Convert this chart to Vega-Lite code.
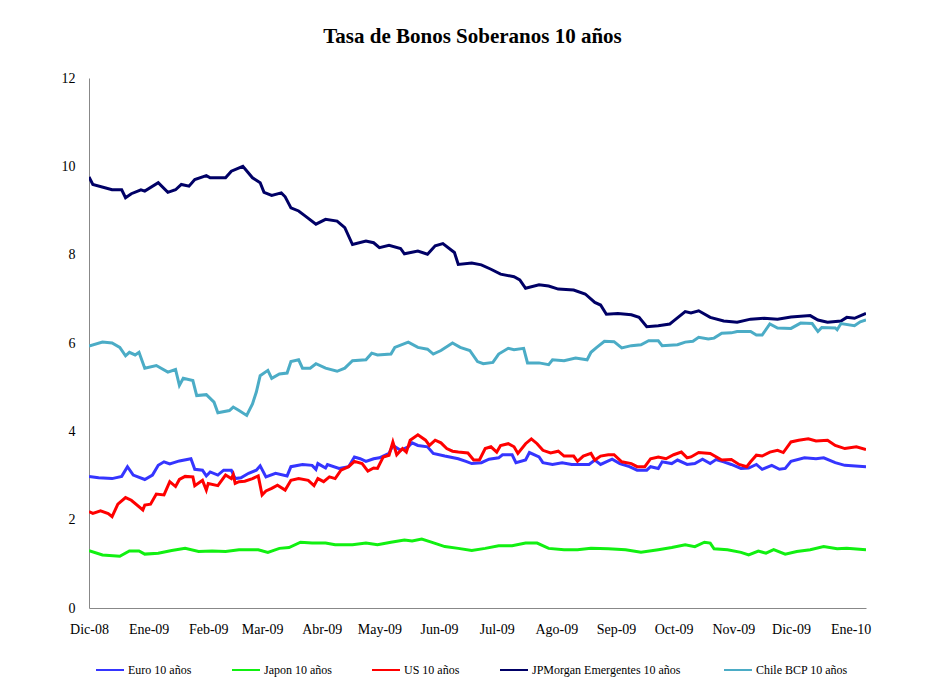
{
  "$schema": "https://vega.github.io/schema/vega-lite/v6.json",
  "width": 777,
  "height": 530,
  "autosize": {"type": "none"},
  "padding": {"left": 89, "top": 78, "right": 60, "bottom": 79},
  "background": "white",
  "title": {"text": "Tasa de Bonos Soberanos 10 años", "font": "Liberation Serif", "fontSize": 21, "fontWeight": "bold", "color": "black", "offset": 24, "anchor": "middle", "dx": -5},
  "config": {"view": {"stroke": null}, "font": "Liberation Serif"},
  "datasets": {
    "bonos": [
      {"serie": "Euro 10 años", "fecha": "2008-12-01", "tasa": 2.98},
      {"serie": "Euro 10 años", "fecha": "2008-12-06", "tasa": 2.95},
      {"serie": "Euro 10 años", "fecha": "2008-12-13", "tasa": 2.93},
      {"serie": "Euro 10 años", "fecha": "2008-12-18", "tasa": 2.98},
      {"serie": "Euro 10 años", "fecha": "2008-12-21", "tasa": 3.20},
      {"serie": "Euro 10 años", "fecha": "2008-12-24", "tasa": 3.01},
      {"serie": "Euro 10 años", "fecha": "2008-12-30", "tasa": 2.91},
      {"serie": "Euro 10 años", "fecha": "2009-01-03", "tasa": 3.01},
      {"serie": "Euro 10 años", "fecha": "2009-01-06", "tasa": 3.23},
      {"serie": "Euro 10 años", "fecha": "2009-01-09", "tasa": 3.31},
      {"serie": "Euro 10 años", "fecha": "2009-01-12", "tasa": 3.26},
      {"serie": "Euro 10 años", "fecha": "2009-01-17", "tasa": 3.33},
      {"serie": "Euro 10 años", "fecha": "2009-01-23", "tasa": 3.38},
      {"serie": "Euro 10 años", "fecha": "2009-01-25", "tasa": 3.14},
      {"serie": "Euro 10 años", "fecha": "2009-01-29", "tasa": 3.12},
      {"serie": "Euro 10 años", "fecha": "2009-01-31", "tasa": 2.99},
      {"serie": "Euro 10 años", "fecha": "2009-02-02", "tasa": 3.08},
      {"serie": "Euro 10 años", "fecha": "2009-02-06", "tasa": 3.01},
      {"serie": "Euro 10 años", "fecha": "2009-02-09", "tasa": 3.12},
      {"serie": "Euro 10 años", "fecha": "2009-02-13", "tasa": 3.12},
      {"serie": "Euro 10 años", "fecha": "2009-02-15", "tasa": 2.93},
      {"serie": "Euro 10 años", "fecha": "2009-02-18", "tasa": 2.95},
      {"serie": "Euro 10 años", "fecha": "2009-02-22", "tasa": 3.05},
      {"serie": "Euro 10 años", "fecha": "2009-02-26", "tasa": 3.12},
      {"serie": "Euro 10 años", "fecha": "2009-02-28", "tasa": 3.22},
      {"serie": "Euro 10 años", "fecha": "2009-03-03", "tasa": 2.97},
      {"serie": "Euro 10 años", "fecha": "2009-03-08", "tasa": 3.05},
      {"serie": "Euro 10 años", "fecha": "2009-03-14", "tasa": 2.99},
      {"serie": "Euro 10 años", "fecha": "2009-03-16", "tasa": 3.20},
      {"serie": "Euro 10 años", "fecha": "2009-03-22", "tasa": 3.25},
      {"serie": "Euro 10 años", "fecha": "2009-03-27", "tasa": 3.23},
      {"serie": "Euro 10 años", "fecha": "2009-03-29", "tasa": 3.14},
      {"serie": "Euro 10 años", "fecha": "2009-03-30", "tasa": 3.27},
      {"serie": "Euro 10 años", "fecha": "2009-04-03", "tasa": 3.17},
      {"serie": "Euro 10 años", "fecha": "2009-04-04", "tasa": 3.25},
      {"serie": "Euro 10 años", "fecha": "2009-04-10", "tasa": 3.16},
      {"serie": "Euro 10 años", "fecha": "2009-04-15", "tasa": 3.20},
      {"serie": "Euro 10 años", "fecha": "2009-04-18", "tasa": 3.42},
      {"serie": "Euro 10 años", "fecha": "2009-04-21", "tasa": 3.38},
      {"serie": "Euro 10 años", "fecha": "2009-04-24", "tasa": 3.32},
      {"serie": "Euro 10 años", "fecha": "2009-04-28", "tasa": 3.38},
      {"serie": "Euro 10 años", "fecha": "2009-05-01", "tasa": 3.40},
      {"serie": "Euro 10 años", "fecha": "2009-05-06", "tasa": 3.50},
      {"serie": "Euro 10 años", "fecha": "2009-05-08", "tasa": 3.68},
      {"serie": "Euro 10 años", "fecha": "2009-05-12", "tasa": 3.57},
      {"serie": "Euro 10 años", "fecha": "2009-05-16", "tasa": 3.65},
      {"serie": "Euro 10 años", "fecha": "2009-05-18", "tasa": 3.74},
      {"serie": "Euro 10 años", "fecha": "2009-05-21", "tasa": 3.68},
      {"serie": "Euro 10 años", "fecha": "2009-05-26", "tasa": 3.65},
      {"serie": "Euro 10 años", "fecha": "2009-05-29", "tasa": 3.50},
      {"serie": "Euro 10 años", "fecha": "2009-06-04", "tasa": 3.44},
      {"serie": "Euro 10 años", "fecha": "2009-06-11", "tasa": 3.38},
      {"serie": "Euro 10 años", "fecha": "2009-06-15", "tasa": 3.32},
      {"serie": "Euro 10 años", "fecha": "2009-06-18", "tasa": 3.27},
      {"serie": "Euro 10 años", "fecha": "2009-06-23", "tasa": 3.29},
      {"serie": "Euro 10 años", "fecha": "2009-06-27", "tasa": 3.37},
      {"serie": "Euro 10 años", "fecha": "2009-07-02", "tasa": 3.40},
      {"serie": "Euro 10 años", "fecha": "2009-07-04", "tasa": 3.47},
      {"serie": "Euro 10 años", "fecha": "2009-07-09", "tasa": 3.47},
      {"serie": "Euro 10 años", "fecha": "2009-07-11", "tasa": 3.29},
      {"serie": "Euro 10 años", "fecha": "2009-07-16", "tasa": 3.35},
      {"serie": "Euro 10 años", "fecha": "2009-07-18", "tasa": 3.52},
      {"serie": "Euro 10 años", "fecha": "2009-07-23", "tasa": 3.42},
      {"serie": "Euro 10 años", "fecha": "2009-07-25", "tasa": 3.29},
      {"serie": "Euro 10 años", "fecha": "2009-07-30", "tasa": 3.25},
      {"serie": "Euro 10 años", "fecha": "2009-08-04", "tasa": 3.29},
      {"serie": "Euro 10 años", "fecha": "2009-08-09", "tasa": 3.25},
      {"serie": "Euro 10 años", "fecha": "2009-08-18", "tasa": 3.25},
      {"serie": "Euro 10 años", "fecha": "2009-08-21", "tasa": 3.35},
      {"serie": "Euro 10 años", "fecha": "2009-08-24", "tasa": 3.25},
      {"serie": "Euro 10 años", "fecha": "2009-08-30", "tasa": 3.37},
      {"serie": "Euro 10 años", "fecha": "2009-09-03", "tasa": 3.27},
      {"serie": "Euro 10 años", "fecha": "2009-09-08", "tasa": 3.20},
      {"serie": "Euro 10 años", "fecha": "2009-09-12", "tasa": 3.12},
      {"serie": "Euro 10 años", "fecha": "2009-09-17", "tasa": 3.12},
      {"serie": "Euro 10 años", "fecha": "2009-09-19", "tasa": 3.20},
      {"serie": "Euro 10 años", "fecha": "2009-09-23", "tasa": 3.16},
      {"serie": "Euro 10 años", "fecha": "2009-09-25", "tasa": 3.31},
      {"serie": "Euro 10 años", "fecha": "2009-09-30", "tasa": 3.27},
      {"serie": "Euro 10 años", "fecha": "2009-10-03", "tasa": 3.35},
      {"serie": "Euro 10 años", "fecha": "2009-10-08", "tasa": 3.25},
      {"serie": "Euro 10 años", "fecha": "2009-10-12", "tasa": 3.27},
      {"serie": "Euro 10 años", "fecha": "2009-10-16", "tasa": 3.37},
      {"serie": "Euro 10 años", "fecha": "2009-10-20", "tasa": 3.27},
      {"serie": "Euro 10 años", "fecha": "2009-10-23", "tasa": 3.36},
      {"serie": "Euro 10 años", "fecha": "2009-10-27", "tasa": 3.31},
      {"serie": "Euro 10 años", "fecha": "2009-10-31", "tasa": 3.25},
      {"serie": "Euro 10 años", "fecha": "2009-11-05", "tasa": 3.16},
      {"serie": "Euro 10 años", "fecha": "2009-11-09", "tasa": 3.17},
      {"serie": "Euro 10 años", "fecha": "2009-11-13", "tasa": 3.25},
      {"serie": "Euro 10 años", "fecha": "2009-11-16", "tasa": 3.14},
      {"serie": "Euro 10 años", "fecha": "2009-11-21", "tasa": 3.23},
      {"serie": "Euro 10 años", "fecha": "2009-11-25", "tasa": 3.14},
      {"serie": "Euro 10 años", "fecha": "2009-11-28", "tasa": 3.16},
      {"serie": "Euro 10 años", "fecha": "2009-12-01", "tasa": 3.32},
      {"serie": "Euro 10 años", "fecha": "2009-12-08", "tasa": 3.40},
      {"serie": "Euro 10 años", "fecha": "2009-12-14", "tasa": 3.38},
      {"serie": "Euro 10 años", "fecha": "2009-12-18", "tasa": 3.40},
      {"serie": "Euro 10 años", "fecha": "2009-12-24", "tasa": 3.29},
      {"serie": "Euro 10 años", "fecha": "2009-12-29", "tasa": 3.23},
      {"serie": "Euro 10 años", "fecha": "2010-01-09", "tasa": 3.20},

      {"serie": "Japon 10 años", "fecha": "2008-12-01", "tasa": 1.30},
      {"serie": "Japon 10 años", "fecha": "2008-12-08", "tasa": 1.20},
      {"serie": "Japon 10 años", "fecha": "2008-12-17", "tasa": 1.17},
      {"serie": "Japon 10 años", "fecha": "2008-12-22", "tasa": 1.29},
      {"serie": "Japon 10 años", "fecha": "2008-12-27", "tasa": 1.29},
      {"serie": "Japon 10 años", "fecha": "2008-12-30", "tasa": 1.22},
      {"serie": "Japon 10 años", "fecha": "2009-01-06", "tasa": 1.24},
      {"serie": "Japon 10 años", "fecha": "2009-01-13", "tasa": 1.30},
      {"serie": "Japon 10 años", "fecha": "2009-01-20", "tasa": 1.35},
      {"serie": "Japon 10 años", "fecha": "2009-01-27", "tasa": 1.28},
      {"serie": "Japon 10 años", "fecha": "2009-02-03", "tasa": 1.29},
      {"serie": "Japon 10 años", "fecha": "2009-02-10", "tasa": 1.28},
      {"serie": "Japon 10 años", "fecha": "2009-02-17", "tasa": 1.32},
      {"serie": "Japon 10 años", "fecha": "2009-02-27", "tasa": 1.32},
      {"serie": "Japon 10 años", "fecha": "2009-03-04", "tasa": 1.26},
      {"serie": "Japon 10 años", "fecha": "2009-03-10", "tasa": 1.35},
      {"serie": "Japon 10 años", "fecha": "2009-03-15", "tasa": 1.37},
      {"serie": "Japon 10 años", "fecha": "2009-03-21", "tasa": 1.49},
      {"serie": "Japon 10 años", "fecha": "2009-03-27", "tasa": 1.47},
      {"serie": "Japon 10 años", "fecha": "2009-04-03", "tasa": 1.47},
      {"serie": "Japon 10 años", "fecha": "2009-04-08", "tasa": 1.43},
      {"serie": "Japon 10 años", "fecha": "2009-04-17", "tasa": 1.43},
      {"serie": "Japon 10 años", "fecha": "2009-04-24", "tasa": 1.47},
      {"serie": "Japon 10 años", "fecha": "2009-04-30", "tasa": 1.43},
      {"serie": "Japon 10 años", "fecha": "2009-05-07", "tasa": 1.49},
      {"serie": "Japon 10 años", "fecha": "2009-05-14", "tasa": 1.54},
      {"serie": "Japon 10 años", "fecha": "2009-05-18", "tasa": 1.52},
      {"serie": "Japon 10 años", "fecha": "2009-05-23", "tasa": 1.56},
      {"serie": "Japon 10 años", "fecha": "2009-05-28", "tasa": 1.49},
      {"serie": "Japon 10 años", "fecha": "2009-06-04", "tasa": 1.39},
      {"serie": "Japon 10 años", "fecha": "2009-06-11", "tasa": 1.35},
      {"serie": "Japon 10 años", "fecha": "2009-06-18", "tasa": 1.30},
      {"serie": "Japon 10 años", "fecha": "2009-06-25", "tasa": 1.35},
      {"serie": "Japon 10 años", "fecha": "2009-07-02", "tasa": 1.41},
      {"serie": "Japon 10 años", "fecha": "2009-07-09", "tasa": 1.41},
      {"serie": "Japon 10 años", "fecha": "2009-07-16", "tasa": 1.47},
      {"serie": "Japon 10 años", "fecha": "2009-07-22", "tasa": 1.47},
      {"serie": "Japon 10 años", "fecha": "2009-07-28", "tasa": 1.35},
      {"serie": "Japon 10 años", "fecha": "2009-08-05", "tasa": 1.32},
      {"serie": "Japon 10 años", "fecha": "2009-08-12", "tasa": 1.32},
      {"serie": "Japon 10 años", "fecha": "2009-08-19", "tasa": 1.35},
      {"serie": "Japon 10 años", "fecha": "2009-08-28", "tasa": 1.34},
      {"serie": "Japon 10 años", "fecha": "2009-09-06", "tasa": 1.32},
      {"serie": "Japon 10 años", "fecha": "2009-09-14", "tasa": 1.26},
      {"serie": "Japon 10 años", "fecha": "2009-09-23", "tasa": 1.32},
      {"serie": "Japon 10 años", "fecha": "2009-09-30", "tasa": 1.37},
      {"serie": "Japon 10 años", "fecha": "2009-10-07", "tasa": 1.43},
      {"serie": "Japon 10 años", "fecha": "2009-10-12", "tasa": 1.39},
      {"serie": "Japon 10 años", "fecha": "2009-10-17", "tasa": 1.49},
      {"serie": "Japon 10 años", "fecha": "2009-10-20", "tasa": 1.47},
      {"serie": "Japon 10 años", "fecha": "2009-10-22", "tasa": 1.34},
      {"serie": "Japon 10 años", "fecha": "2009-10-29", "tasa": 1.32},
      {"serie": "Japon 10 años", "fecha": "2009-11-05", "tasa": 1.26},
      {"serie": "Japon 10 años", "fecha": "2009-11-09", "tasa": 1.20},
      {"serie": "Japon 10 años", "fecha": "2009-11-14", "tasa": 1.29},
      {"serie": "Japon 10 años", "fecha": "2009-11-18", "tasa": 1.24},
      {"serie": "Japon 10 años", "fecha": "2009-11-22", "tasa": 1.32},
      {"serie": "Japon 10 años", "fecha": "2009-11-28", "tasa": 1.22},
      {"serie": "Japon 10 años", "fecha": "2009-12-04", "tasa": 1.28},
      {"serie": "Japon 10 años", "fecha": "2009-12-11", "tasa": 1.32},
      {"serie": "Japon 10 años", "fecha": "2009-12-18", "tasa": 1.39},
      {"serie": "Japon 10 años", "fecha": "2009-12-25", "tasa": 1.34},
      {"serie": "Japon 10 años", "fecha": "2009-12-30", "tasa": 1.35},
      {"serie": "Japon 10 años", "fecha": "2010-01-09", "tasa": 1.32},

      {"serie": "US 10 años", "fecha": "2008-12-01", "tasa": 2.18},
      {"serie": "US 10 años", "fecha": "2008-12-03", "tasa": 2.14},
      {"serie": "US 10 años", "fecha": "2008-12-07", "tasa": 2.20},
      {"serie": "US 10 años", "fecha": "2008-12-11", "tasa": 2.14},
      {"serie": "US 10 años", "fecha": "2008-12-13", "tasa": 2.07},
      {"serie": "US 10 años", "fecha": "2008-12-16", "tasa": 2.35},
      {"serie": "US 10 años", "fecha": "2008-12-20", "tasa": 2.50},
      {"serie": "US 10 años", "fecha": "2008-12-23", "tasa": 2.44},
      {"serie": "US 10 años", "fecha": "2008-12-29", "tasa": 2.22},
      {"serie": "US 10 años", "fecha": "2008-12-30", "tasa": 2.33},
      {"serie": "US 10 años", "fecha": "2009-01-02", "tasa": 2.35},
      {"serie": "US 10 años", "fecha": "2009-01-05", "tasa": 2.58},
      {"serie": "US 10 años", "fecha": "2009-01-09", "tasa": 2.56},
      {"serie": "US 10 años", "fecha": "2009-01-12", "tasa": 2.86},
      {"serie": "US 10 años", "fecha": "2009-01-15", "tasa": 2.75},
      {"serie": "US 10 años", "fecha": "2009-01-17", "tasa": 2.91},
      {"serie": "US 10 años", "fecha": "2009-01-20", "tasa": 2.98},
      {"serie": "US 10 años", "fecha": "2009-01-24", "tasa": 2.97},
      {"serie": "US 10 años", "fecha": "2009-01-25", "tasa": 2.77},
      {"serie": "US 10 años", "fecha": "2009-01-29", "tasa": 2.89},
      {"serie": "US 10 años", "fecha": "2009-01-31", "tasa": 2.67},
      {"serie": "US 10 años", "fecha": "2009-02-01", "tasa": 2.82},
      {"serie": "US 10 años", "fecha": "2009-02-06", "tasa": 2.77},
      {"serie": "US 10 años", "fecha": "2009-02-10", "tasa": 3.01},
      {"serie": "US 10 años", "fecha": "2009-02-13", "tasa": 2.93},
      {"serie": "US 10 años", "fecha": "2009-02-14", "tasa": 3.02},
      {"serie": "US 10 años", "fecha": "2009-02-15", "tasa": 2.82},
      {"serie": "US 10 años", "fecha": "2009-02-17", "tasa": 2.86},
      {"serie": "US 10 años", "fecha": "2009-02-20", "tasa": 2.87},
      {"serie": "US 10 años", "fecha": "2009-02-24", "tasa": 2.93},
      {"serie": "US 10 años", "fecha": "2009-02-27", "tasa": 2.99},
      {"serie": "US 10 años", "fecha": "2009-03-01", "tasa": 2.56},
      {"serie": "US 10 años", "fecha": "2009-03-03", "tasa": 2.65},
      {"serie": "US 10 años", "fecha": "2009-03-06", "tasa": 2.71},
      {"serie": "US 10 años", "fecha": "2009-03-09", "tasa": 2.78},
      {"serie": "US 10 años", "fecha": "2009-03-13", "tasa": 2.67},
      {"serie": "US 10 años", "fecha": "2009-03-16", "tasa": 2.89},
      {"serie": "US 10 años", "fecha": "2009-03-20", "tasa": 2.93},
      {"serie": "US 10 años", "fecha": "2009-03-25", "tasa": 2.89},
      {"serie": "US 10 años", "fecha": "2009-03-28", "tasa": 2.77},
      {"serie": "US 10 años", "fecha": "2009-03-30", "tasa": 2.93},
      {"serie": "US 10 años", "fecha": "2009-04-02", "tasa": 2.86},
      {"serie": "US 10 años", "fecha": "2009-04-05", "tasa": 2.97},
      {"serie": "US 10 años", "fecha": "2009-04-08", "tasa": 2.93},
      {"serie": "US 10 años", "fecha": "2009-04-11", "tasa": 3.12},
      {"serie": "US 10 años", "fecha": "2009-04-15", "tasa": 3.20},
      {"serie": "US 10 años", "fecha": "2009-04-18", "tasa": 3.32},
      {"serie": "US 10 años", "fecha": "2009-04-22", "tasa": 3.27},
      {"serie": "US 10 años", "fecha": "2009-04-25", "tasa": 3.10},
      {"serie": "US 10 años", "fecha": "2009-04-28", "tasa": 3.17},
      {"serie": "US 10 años", "fecha": "2009-04-30", "tasa": 3.16},
      {"serie": "US 10 años", "fecha": "2009-05-03", "tasa": 3.42},
      {"serie": "US 10 años", "fecha": "2009-05-06", "tasa": 3.46},
      {"serie": "US 10 años", "fecha": "2009-05-08", "tasa": 3.76},
      {"serie": "US 10 años", "fecha": "2009-05-10", "tasa": 3.47},
      {"serie": "US 10 años", "fecha": "2009-05-13", "tasa": 3.61},
      {"serie": "US 10 años", "fecha": "2009-05-15", "tasa": 3.53},
      {"serie": "US 10 años", "fecha": "2009-05-17", "tasa": 3.80},
      {"serie": "US 10 años", "fecha": "2009-05-21", "tasa": 3.92},
      {"serie": "US 10 años", "fecha": "2009-05-25", "tasa": 3.80},
      {"serie": "US 10 años", "fecha": "2009-05-27", "tasa": 3.68},
      {"serie": "US 10 años", "fecha": "2009-05-30", "tasa": 3.80},
      {"serie": "US 10 años", "fecha": "2009-06-02", "tasa": 3.74},
      {"serie": "US 10 años", "fecha": "2009-06-05", "tasa": 3.61},
      {"serie": "US 10 años", "fecha": "2009-06-08", "tasa": 3.55},
      {"serie": "US 10 años", "fecha": "2009-06-11", "tasa": 3.53},
      {"serie": "US 10 años", "fecha": "2009-06-16", "tasa": 3.51},
      {"serie": "US 10 años", "fecha": "2009-06-19", "tasa": 3.35},
      {"serie": "US 10 años", "fecha": "2009-06-22", "tasa": 3.35},
      {"serie": "US 10 años", "fecha": "2009-06-25", "tasa": 3.61},
      {"serie": "US 10 años", "fecha": "2009-06-28", "tasa": 3.65},
      {"serie": "US 10 años", "fecha": "2009-07-01", "tasa": 3.53},
      {"serie": "US 10 años", "fecha": "2009-07-03", "tasa": 3.68},
      {"serie": "US 10 años", "fecha": "2009-07-07", "tasa": 3.72},
      {"serie": "US 10 años", "fecha": "2009-07-10", "tasa": 3.65},
      {"serie": "US 10 años", "fecha": "2009-07-12", "tasa": 3.50},
      {"serie": "US 10 años", "fecha": "2009-07-16", "tasa": 3.72},
      {"serie": "US 10 años", "fecha": "2009-07-19", "tasa": 3.83},
      {"serie": "US 10 años", "fecha": "2009-07-22", "tasa": 3.72},
      {"serie": "US 10 años", "fecha": "2009-07-25", "tasa": 3.57},
      {"serie": "US 10 años", "fecha": "2009-07-29", "tasa": 3.51},
      {"serie": "US 10 años", "fecha": "2009-08-02", "tasa": 3.55},
      {"serie": "US 10 años", "fecha": "2009-08-05", "tasa": 3.44},
      {"serie": "US 10 años", "fecha": "2009-08-10", "tasa": 3.44},
      {"serie": "US 10 años", "fecha": "2009-08-12", "tasa": 3.32},
      {"serie": "US 10 años", "fecha": "2009-08-15", "tasa": 3.44},
      {"serie": "US 10 años", "fecha": "2009-08-19", "tasa": 3.50},
      {"serie": "US 10 años", "fecha": "2009-08-21", "tasa": 3.35},
      {"serie": "US 10 años", "fecha": "2009-08-24", "tasa": 3.44},
      {"serie": "US 10 años", "fecha": "2009-08-28", "tasa": 3.47},
      {"serie": "US 10 años", "fecha": "2009-08-31", "tasa": 3.47},
      {"serie": "US 10 años", "fecha": "2009-09-04", "tasa": 3.31},
      {"serie": "US 10 años", "fecha": "2009-09-09", "tasa": 3.27},
      {"serie": "US 10 años", "fecha": "2009-09-12", "tasa": 3.20},
      {"serie": "US 10 años", "fecha": "2009-09-16", "tasa": 3.20},
      {"serie": "US 10 años", "fecha": "2009-09-19", "tasa": 3.38},
      {"serie": "US 10 años", "fecha": "2009-09-23", "tasa": 3.42},
      {"serie": "US 10 años", "fecha": "2009-09-27", "tasa": 3.38},
      {"serie": "US 10 años", "fecha": "2009-10-01", "tasa": 3.47},
      {"serie": "US 10 años", "fecha": "2009-10-05", "tasa": 3.53},
      {"serie": "US 10 años", "fecha": "2009-10-08", "tasa": 3.40},
      {"serie": "US 10 años", "fecha": "2009-10-10", "tasa": 3.42},
      {"serie": "US 10 años", "fecha": "2009-10-14", "tasa": 3.52},
      {"serie": "US 10 años", "fecha": "2009-10-20", "tasa": 3.50},
      {"serie": "US 10 años", "fecha": "2009-10-26", "tasa": 3.35},
      {"serie": "US 10 años", "fecha": "2009-10-31", "tasa": 3.36},
      {"serie": "US 10 años", "fecha": "2009-11-04", "tasa": 3.25},
      {"serie": "US 10 años", "fecha": "2009-11-08", "tasa": 3.20},
      {"serie": "US 10 años", "fecha": "2009-11-10", "tasa": 3.31},
      {"serie": "US 10 años", "fecha": "2009-11-13", "tasa": 3.46},
      {"serie": "US 10 años", "fecha": "2009-11-16", "tasa": 3.44},
      {"serie": "US 10 años", "fecha": "2009-11-20", "tasa": 3.53},
      {"serie": "US 10 años", "fecha": "2009-11-24", "tasa": 3.57},
      {"serie": "US 10 años", "fecha": "2009-11-27", "tasa": 3.52},
      {"serie": "US 10 años", "fecha": "2009-12-01", "tasa": 3.76},
      {"serie": "US 10 años", "fecha": "2009-12-05", "tasa": 3.80},
      {"serie": "US 10 años", "fecha": "2009-12-10", "tasa": 3.83},
      {"serie": "US 10 años", "fecha": "2009-12-14", "tasa": 3.78},
      {"serie": "US 10 años", "fecha": "2009-12-20", "tasa": 3.80},
      {"serie": "US 10 años", "fecha": "2009-12-24", "tasa": 3.68},
      {"serie": "US 10 años", "fecha": "2009-12-29", "tasa": 3.61},
      {"serie": "US 10 años", "fecha": "2010-01-04", "tasa": 3.65},
      {"serie": "US 10 años", "fecha": "2010-01-09", "tasa": 3.59},

      {"serie": "JPMorgan Emergentes  10 años", "fecha": "2008-12-01", "tasa": 9.76},
      {"serie": "JPMorgan Emergentes  10 años", "fecha": "2008-12-03", "tasa": 9.59},
      {"serie": "JPMorgan Emergentes  10 años", "fecha": "2008-12-13", "tasa": 9.47},
      {"serie": "JPMorgan Emergentes  10 años", "fecha": "2008-12-18", "tasa": 9.47},
      {"serie": "JPMorgan Emergentes  10 años", "fecha": "2008-12-20", "tasa": 9.29},
      {"serie": "JPMorgan Emergentes  10 años", "fecha": "2008-12-23", "tasa": 9.38},
      {"serie": "JPMorgan Emergentes  10 años", "fecha": "2008-12-28", "tasa": 9.47},
      {"serie": "JPMorgan Emergentes  10 años", "fecha": "2008-12-30", "tasa": 9.44},
      {"serie": "JPMorgan Emergentes  10 años", "fecha": "2009-01-06", "tasa": 9.63},
      {"serie": "JPMorgan Emergentes  10 años", "fecha": "2009-01-11", "tasa": 9.41},
      {"serie": "JPMorgan Emergentes  10 años", "fecha": "2009-01-15", "tasa": 9.47},
      {"serie": "JPMorgan Emergentes  10 años", "fecha": "2009-01-18", "tasa": 9.59},
      {"serie": "JPMorgan Emergentes  10 años", "fecha": "2009-01-22", "tasa": 9.55},
      {"serie": "JPMorgan Emergentes  10 años", "fecha": "2009-01-25", "tasa": 9.70},
      {"serie": "JPMorgan Emergentes  10 años", "fecha": "2009-01-31", "tasa": 9.79},
      {"serie": "JPMorgan Emergentes  10 años", "fecha": "2009-02-02", "tasa": 9.74},
      {"serie": "JPMorgan Emergentes  10 años", "fecha": "2009-02-10", "tasa": 9.74},
      {"serie": "JPMorgan Emergentes  10 años", "fecha": "2009-02-13", "tasa": 9.89},
      {"serie": "JPMorgan Emergentes  10 años", "fecha": "2009-02-19", "tasa": 10.0},
      {"serie": "JPMorgan Emergentes  10 años", "fecha": "2009-02-24", "tasa": 9.74},
      {"serie": "JPMorgan Emergentes  10 años", "fecha": "2009-02-28", "tasa": 9.63},
      {"serie": "JPMorgan Emergentes  10 años", "fecha": "2009-03-02", "tasa": 9.41},
      {"serie": "JPMorgan Emergentes  10 años", "fecha": "2009-03-06", "tasa": 9.34},
      {"serie": "JPMorgan Emergentes  10 años", "fecha": "2009-03-11", "tasa": 9.40},
      {"serie": "JPMorgan Emergentes  10 años", "fecha": "2009-03-13", "tasa": 9.31},
      {"serie": "JPMorgan Emergentes  10 años", "fecha": "2009-03-16", "tasa": 9.06},
      {"serie": "JPMorgan Emergentes  10 años", "fecha": "2009-03-20", "tasa": 8.99},
      {"serie": "JPMorgan Emergentes  10 años", "fecha": "2009-03-23", "tasa": 8.89},
      {"serie": "JPMorgan Emergentes  10 años", "fecha": "2009-03-29", "tasa": 8.69},
      {"serie": "JPMorgan Emergentes  10 años", "fecha": "2009-04-03", "tasa": 8.80},
      {"serie": "JPMorgan Emergentes  10 años", "fecha": "2009-04-09", "tasa": 8.76},
      {"serie": "JPMorgan Emergentes  10 años", "fecha": "2009-04-13", "tasa": 8.61},
      {"serie": "JPMorgan Emergentes  10 años", "fecha": "2009-04-17", "tasa": 8.23},
      {"serie": "JPMorgan Emergentes  10 años", "fecha": "2009-04-24", "tasa": 8.31},
      {"serie": "JPMorgan Emergentes  10 años", "fecha": "2009-04-28", "tasa": 8.27},
      {"serie": "JPMorgan Emergentes  10 años", "fecha": "2009-05-01", "tasa": 8.16},
      {"serie": "JPMorgan Emergentes  10 años", "fecha": "2009-05-06", "tasa": 8.21},
      {"serie": "JPMorgan Emergentes  10 años", "fecha": "2009-05-12", "tasa": 8.14},
      {"serie": "JPMorgan Emergentes  10 años", "fecha": "2009-05-14", "tasa": 8.02},
      {"serie": "JPMorgan Emergentes  10 años", "fecha": "2009-05-21", "tasa": 8.08},
      {"serie": "JPMorgan Emergentes  10 años", "fecha": "2009-05-26", "tasa": 8.01},
      {"serie": "JPMorgan Emergentes  10 años", "fecha": "2009-05-30", "tasa": 8.20},
      {"serie": "JPMorgan Emergentes  10 años", "fecha": "2009-06-03", "tasa": 8.25},
      {"serie": "JPMorgan Emergentes  10 años", "fecha": "2009-06-09", "tasa": 8.05},
      {"serie": "JPMorgan Emergentes  10 años", "fecha": "2009-06-11", "tasa": 7.78},
      {"serie": "JPMorgan Emergentes  10 años", "fecha": "2009-06-18", "tasa": 7.81},
      {"serie": "JPMorgan Emergentes  10 años", "fecha": "2009-06-23", "tasa": 7.77},
      {"serie": "JPMorgan Emergentes  10 años", "fecha": "2009-06-28", "tasa": 7.67},
      {"serie": "JPMorgan Emergentes  10 años", "fecha": "2009-07-03", "tasa": 7.56},
      {"serie": "JPMorgan Emergentes  10 años", "fecha": "2009-07-10", "tasa": 7.50},
      {"serie": "JPMorgan Emergentes  10 años", "fecha": "2009-07-13", "tasa": 7.43},
      {"serie": "JPMorgan Emergentes  10 años", "fecha": "2009-07-16", "tasa": 7.24},
      {"serie": "JPMorgan Emergentes  10 años", "fecha": "2009-07-23", "tasa": 7.32},
      {"serie": "JPMorgan Emergentes  10 años", "fecha": "2009-07-28", "tasa": 7.29},
      {"serie": "JPMorgan Emergentes  10 años", "fecha": "2009-08-02", "tasa": 7.22},
      {"serie": "JPMorgan Emergentes  10 años", "fecha": "2009-08-10", "tasa": 7.20},
      {"serie": "JPMorgan Emergentes  10 años", "fecha": "2009-08-16", "tasa": 7.11},
      {"serie": "JPMorgan Emergentes  10 años", "fecha": "2009-08-21", "tasa": 6.92},
      {"serie": "JPMorgan Emergentes  10 años", "fecha": "2009-08-24", "tasa": 6.86},
      {"serie": "JPMorgan Emergentes  10 años", "fecha": "2009-08-27", "tasa": 6.65},
      {"serie": "JPMorgan Emergentes  10 años", "fecha": "2009-09-02", "tasa": 6.67},
      {"serie": "JPMorgan Emergentes  10 años", "fecha": "2009-09-09", "tasa": 6.64},
      {"serie": "JPMorgan Emergentes  10 años", "fecha": "2009-09-13", "tasa": 6.58},
      {"serie": "JPMorgan Emergentes  10 años", "fecha": "2009-09-17", "tasa": 6.37},
      {"serie": "JPMorgan Emergentes  10 años", "fecha": "2009-09-23", "tasa": 6.39},
      {"serie": "JPMorgan Emergentes  10 años", "fecha": "2009-09-29", "tasa": 6.43},
      {"serie": "JPMorgan Emergentes  10 años", "fecha": "2009-10-01", "tasa": 6.50},
      {"serie": "JPMorgan Emergentes  10 años", "fecha": "2009-10-07", "tasa": 6.71},
      {"serie": "JPMorgan Emergentes  10 años", "fecha": "2009-10-10", "tasa": 6.68},
      {"serie": "JPMorgan Emergentes  10 años", "fecha": "2009-10-14", "tasa": 6.73},
      {"serie": "JPMorgan Emergentes  10 años", "fecha": "2009-10-20", "tasa": 6.58},
      {"serie": "JPMorgan Emergentes  10 años", "fecha": "2009-10-27", "tasa": 6.50},
      {"serie": "JPMorgan Emergentes  10 años", "fecha": "2009-11-03", "tasa": 6.47},
      {"serie": "JPMorgan Emergentes  10 años", "fecha": "2009-11-10", "tasa": 6.54},
      {"serie": "JPMorgan Emergentes  10 años", "fecha": "2009-11-17", "tasa": 6.56},
      {"serie": "JPMorgan Emergentes  10 años", "fecha": "2009-11-24", "tasa": 6.54},
      {"serie": "JPMorgan Emergentes  10 años", "fecha": "2009-12-01", "tasa": 6.59},
      {"serie": "JPMorgan Emergentes  10 años", "fecha": "2009-12-11", "tasa": 6.62},
      {"serie": "JPMorgan Emergentes  10 años", "fecha": "2009-12-15", "tasa": 6.52},
      {"serie": "JPMorgan Emergentes  10 años", "fecha": "2009-12-20", "tasa": 6.47},
      {"serie": "JPMorgan Emergentes  10 años", "fecha": "2009-12-27", "tasa": 6.50},
      {"serie": "JPMorgan Emergentes  10 años", "fecha": "2009-12-30", "tasa": 6.58},
      {"serie": "JPMorgan Emergentes  10 años", "fecha": "2010-01-03", "tasa": 6.56},
      {"serie": "JPMorgan Emergentes  10 años", "fecha": "2010-01-09", "tasa": 6.67},

      {"serie": "Chile BCP  10 años", "fecha": "2008-12-01", "tasa": 5.93},
      {"serie": "Chile BCP  10 años", "fecha": "2008-12-08", "tasa": 6.02},
      {"serie": "Chile BCP  10 años", "fecha": "2008-12-13", "tasa": 6.00},
      {"serie": "Chile BCP  10 años", "fecha": "2008-12-17", "tasa": 5.90},
      {"serie": "Chile BCP  10 años", "fecha": "2008-12-20", "tasa": 5.71},
      {"serie": "Chile BCP  10 años", "fecha": "2008-12-22", "tasa": 5.79},
      {"serie": "Chile BCP  10 años", "fecha": "2008-12-25", "tasa": 5.73},
      {"serie": "Chile BCP  10 años", "fecha": "2008-12-27", "tasa": 5.79},
      {"serie": "Chile BCP  10 años", "fecha": "2008-12-30", "tasa": 5.43},
      {"serie": "Chile BCP  10 años", "fecha": "2009-01-05", "tasa": 5.49},
      {"serie": "Chile BCP  10 años", "fecha": "2009-01-11", "tasa": 5.34},
      {"serie": "Chile BCP  10 años", "fecha": "2009-01-15", "tasa": 5.40},
      {"serie": "Chile BCP  10 años", "fecha": "2009-01-17", "tasa": 5.04},
      {"serie": "Chile BCP  10 años", "fecha": "2009-01-19", "tasa": 5.20},
      {"serie": "Chile BCP  10 años", "fecha": "2009-01-24", "tasa": 5.15},
      {"serie": "Chile BCP  10 años", "fecha": "2009-01-26", "tasa": 4.81},
      {"serie": "Chile BCP  10 años", "fecha": "2009-01-31", "tasa": 4.83},
      {"serie": "Chile BCP  10 años", "fecha": "2009-02-04", "tasa": 4.66},
      {"serie": "Chile BCP  10 años", "fecha": "2009-02-06", "tasa": 4.42},
      {"serie": "Chile BCP  10 años", "fecha": "2009-02-12", "tasa": 4.47},
      {"serie": "Chile BCP  10 años", "fecha": "2009-02-14", "tasa": 4.55},
      {"serie": "Chile BCP  10 años", "fecha": "2009-02-17", "tasa": 4.47},
      {"serie": "Chile BCP  10 años", "fecha": "2009-02-21", "tasa": 4.36},
      {"serie": "Chile BCP  10 años", "fecha": "2009-02-24", "tasa": 4.62},
      {"serie": "Chile BCP  10 años", "fecha": "2009-02-26", "tasa": 4.89},
      {"serie": "Chile BCP  10 años", "fecha": "2009-02-28", "tasa": 5.26},
      {"serie": "Chile BCP  10 años", "fecha": "2009-03-04", "tasa": 5.38},
      {"serie": "Chile BCP  10 años", "fecha": "2009-03-06", "tasa": 5.20},
      {"serie": "Chile BCP  10 años", "fecha": "2009-03-10", "tasa": 5.30},
      {"serie": "Chile BCP  10 años", "fecha": "2009-03-14", "tasa": 5.32},
      {"serie": "Chile BCP  10 años", "fecha": "2009-03-16", "tasa": 5.58},
      {"serie": "Chile BCP  10 años", "fecha": "2009-03-20", "tasa": 5.62},
      {"serie": "Chile BCP  10 años", "fecha": "2009-03-22", "tasa": 5.43},
      {"serie": "Chile BCP  10 años", "fecha": "2009-03-26", "tasa": 5.43},
      {"serie": "Chile BCP  10 años", "fecha": "2009-03-29", "tasa": 5.53},
      {"serie": "Chile BCP  10 años", "fecha": "2009-04-03", "tasa": 5.43},
      {"serie": "Chile BCP  10 años", "fecha": "2009-04-09", "tasa": 5.36},
      {"serie": "Chile BCP  10 años", "fecha": "2009-04-13", "tasa": 5.43},
      {"serie": "Chile BCP  10 años", "fecha": "2009-04-17", "tasa": 5.60},
      {"serie": "Chile BCP  10 años", "fecha": "2009-04-24", "tasa": 5.62},
      {"serie": "Chile BCP  10 años", "fecha": "2009-04-27", "tasa": 5.77},
      {"serie": "Chile BCP  10 años", "fecha": "2009-04-30", "tasa": 5.73},
      {"serie": "Chile BCP  10 años", "fecha": "2009-05-07", "tasa": 5.75},
      {"serie": "Chile BCP  10 años", "fecha": "2009-05-09", "tasa": 5.90},
      {"serie": "Chile BCP  10 años", "fecha": "2009-05-16", "tasa": 6.02},
      {"serie": "Chile BCP  10 años", "fecha": "2009-05-21", "tasa": 5.90},
      {"serie": "Chile BCP  10 años", "fecha": "2009-05-26", "tasa": 5.86},
      {"serie": "Chile BCP  10 años", "fecha": "2009-05-29", "tasa": 5.75},
      {"serie": "Chile BCP  10 años", "fecha": "2009-06-02", "tasa": 5.83},
      {"serie": "Chile BCP  10 años", "fecha": "2009-06-08", "tasa": 6.00},
      {"serie": "Chile BCP  10 años", "fecha": "2009-06-12", "tasa": 5.90},
      {"serie": "Chile BCP  10 años", "fecha": "2009-06-17", "tasa": 5.83},
      {"serie": "Chile BCP  10 años", "fecha": "2009-06-21", "tasa": 5.58},
      {"serie": "Chile BCP  10 años", "fecha": "2009-06-24", "tasa": 5.53},
      {"serie": "Chile BCP  10 años", "fecha": "2009-06-29", "tasa": 5.56},
      {"serie": "Chile BCP  10 años", "fecha": "2009-07-02", "tasa": 5.75},
      {"serie": "Chile BCP  10 años", "fecha": "2009-07-07", "tasa": 5.88},
      {"serie": "Chile BCP  10 años", "fecha": "2009-07-10", "tasa": 5.85},
      {"serie": "Chile BCP  10 años", "fecha": "2009-07-15", "tasa": 5.88},
      {"serie": "Chile BCP  10 años", "fecha": "2009-07-17", "tasa": 5.55},
      {"serie": "Chile BCP  10 años", "fecha": "2009-07-23", "tasa": 5.55},
      {"serie": "Chile BCP  10 años", "fecha": "2009-07-28", "tasa": 5.51},
      {"serie": "Chile BCP  10 años", "fecha": "2009-07-30", "tasa": 5.62},
      {"serie": "Chile BCP  10 años", "fecha": "2009-08-05", "tasa": 5.60},
      {"serie": "Chile BCP  10 años", "fecha": "2009-08-11", "tasa": 5.66},
      {"serie": "Chile BCP  10 años", "fecha": "2009-08-17", "tasa": 5.62},
      {"serie": "Chile BCP  10 años", "fecha": "2009-08-19", "tasa": 5.79},
      {"serie": "Chile BCP  10 años", "fecha": "2009-08-22", "tasa": 5.90},
      {"serie": "Chile BCP  10 años", "fecha": "2009-08-26", "tasa": 6.04},
      {"serie": "Chile BCP  10 años", "fecha": "2009-08-31", "tasa": 6.03},
      {"serie": "Chile BCP  10 años", "fecha": "2009-09-04", "tasa": 5.89},
      {"serie": "Chile BCP  10 años", "fecha": "2009-09-09", "tasa": 5.94},
      {"serie": "Chile BCP  10 años", "fecha": "2009-09-14", "tasa": 5.96},
      {"serie": "Chile BCP  10 años", "fecha": "2009-09-18", "tasa": 6.05},
      {"serie": "Chile BCP  10 años", "fecha": "2009-09-23", "tasa": 6.05},
      {"serie": "Chile BCP  10 años", "fecha": "2009-09-25", "tasa": 5.94},
      {"serie": "Chile BCP  10 años", "fecha": "2009-10-03", "tasa": 5.96},
      {"serie": "Chile BCP  10 años", "fecha": "2009-10-07", "tasa": 6.02},
      {"serie": "Chile BCP  10 años", "fecha": "2009-10-11", "tasa": 6.04},
      {"serie": "Chile BCP  10 años", "fecha": "2009-10-14", "tasa": 6.13},
      {"serie": "Chile BCP  10 años", "fecha": "2009-10-19", "tasa": 6.09},
      {"serie": "Chile BCP  10 años", "fecha": "2009-10-22", "tasa": 6.11},
      {"serie": "Chile BCP  10 años", "fecha": "2009-10-26", "tasa": 6.22},
      {"serie": "Chile BCP  10 años", "fecha": "2009-10-31", "tasa": 6.23},
      {"serie": "Chile BCP  10 años", "fecha": "2009-11-03", "tasa": 6.26},
      {"serie": "Chile BCP  10 años", "fecha": "2009-11-10", "tasa": 6.26},
      {"serie": "Chile BCP  10 años", "fecha": "2009-11-13", "tasa": 6.18},
      {"serie": "Chile BCP  10 años", "fecha": "2009-11-16", "tasa": 6.18},
      {"serie": "Chile BCP  10 años", "fecha": "2009-11-20", "tasa": 6.43},
      {"serie": "Chile BCP  10 años", "fecha": "2009-11-24", "tasa": 6.34},
      {"serie": "Chile BCP  10 años", "fecha": "2009-12-01", "tasa": 6.33},
      {"serie": "Chile BCP  10 años", "fecha": "2009-12-06", "tasa": 6.45},
      {"serie": "Chile BCP  10 años", "fecha": "2009-12-12", "tasa": 6.44},
      {"serie": "Chile BCP  10 años", "fecha": "2009-12-15", "tasa": 6.26},
      {"serie": "Chile BCP  10 años", "fecha": "2009-12-17", "tasa": 6.35},
      {"serie": "Chile BCP  10 años", "fecha": "2009-12-24", "tasa": 6.34},
      {"serie": "Chile BCP  10 años", "fecha": "2009-12-25", "tasa": 6.30},
      {"serie": "Chile BCP  10 años", "fecha": "2009-12-27", "tasa": 6.44},
      {"serie": "Chile BCP  10 años", "fecha": "2010-01-03", "tasa": 6.39},
      {"serie": "Chile BCP  10 años", "fecha": "2010-01-06", "tasa": 6.48},
      {"serie": "Chile BCP  10 años", "fecha": "2010-01-09", "tasa": 6.52}
    ]
  },
  "data": {"name": "bonos"},
  "mark": {"type": "line", "strokeWidth": 3, "clip": true},
  "encoding": {
    "x": {
      "field": "fecha",
      "type": "temporal",
      "scale": {"type": "utc", "domain": [{"year": 2008, "month": 12, "date": 1, "utc": true}, {"year": 2010, "month": 1, "date": 9, "utc": true}]},
      "axis": {
        "title": null,
        "grid": false,
        "ticks": false,
        "domainColor": "#888888",
        "domainWidth": 1,
        "tickCount": {"interval": "month", "step": 1},
        "labelExpr": "['Ene','Feb','Mar','Abr','May','Jun','Jul','Ago','Sep','Oct','Nov','Dic'][utcmonth(datum.value)] + '-' + utcFormat(datum.value, '%y')",
        "labelFont": "Liberation Serif",
        "labelFontSize": 14,
        "labelColor": "black",
        "labelPadding": 14,
        "labelOverlap": false,
        "labelFlush": false,
        "labelAlign": "center"
      }
    },
    "y": {
      "field": "tasa",
      "type": "quantitative",
      "scale": {"domain": [0, 12], "nice": false, "zero": true},
      "axis": {
        "title": null,
        "grid": false,
        "ticks": false,
        "values": [0, 2, 4, 6, 8, 10, 12],
        "domainColor": "#888888",
        "domainWidth": 1,
        "labelFont": "Liberation Serif",
        "labelFontSize": 14,
        "labelColor": "black",
        "labelPadding": 14,
        "labelBaseline": "middle"
      }
    },
    "color": {
      "field": "serie",
      "type": "nominal",
      "scale": {
        "domain": ["Euro 10 años", "Japon 10 años", "US 10 años", "JPMorgan Emergentes  10 años", "Chile BCP  10 años"],
        "range": ["#3535FF", "#11F011", "#FF0000", "#000066", "#4BACC6"]
      },
      "legend": {
        "orient": "none",
        "legendX": 6,
        "legendY": 577,
        "direction": "horizontal",
        "columns": 5,
        "columnPadding": 36,
        "title": null,
        "symbolType": "stroke",
        "symbolSize": 784,
        "symbolStrokeWidth": 2,
        "labelFont": "Liberation Serif",
        "labelFontSize": 12,
        "labelColor": "black",
        "labelOffset": 3,
        "labelLimit": 300
      }
    }
  }
}
